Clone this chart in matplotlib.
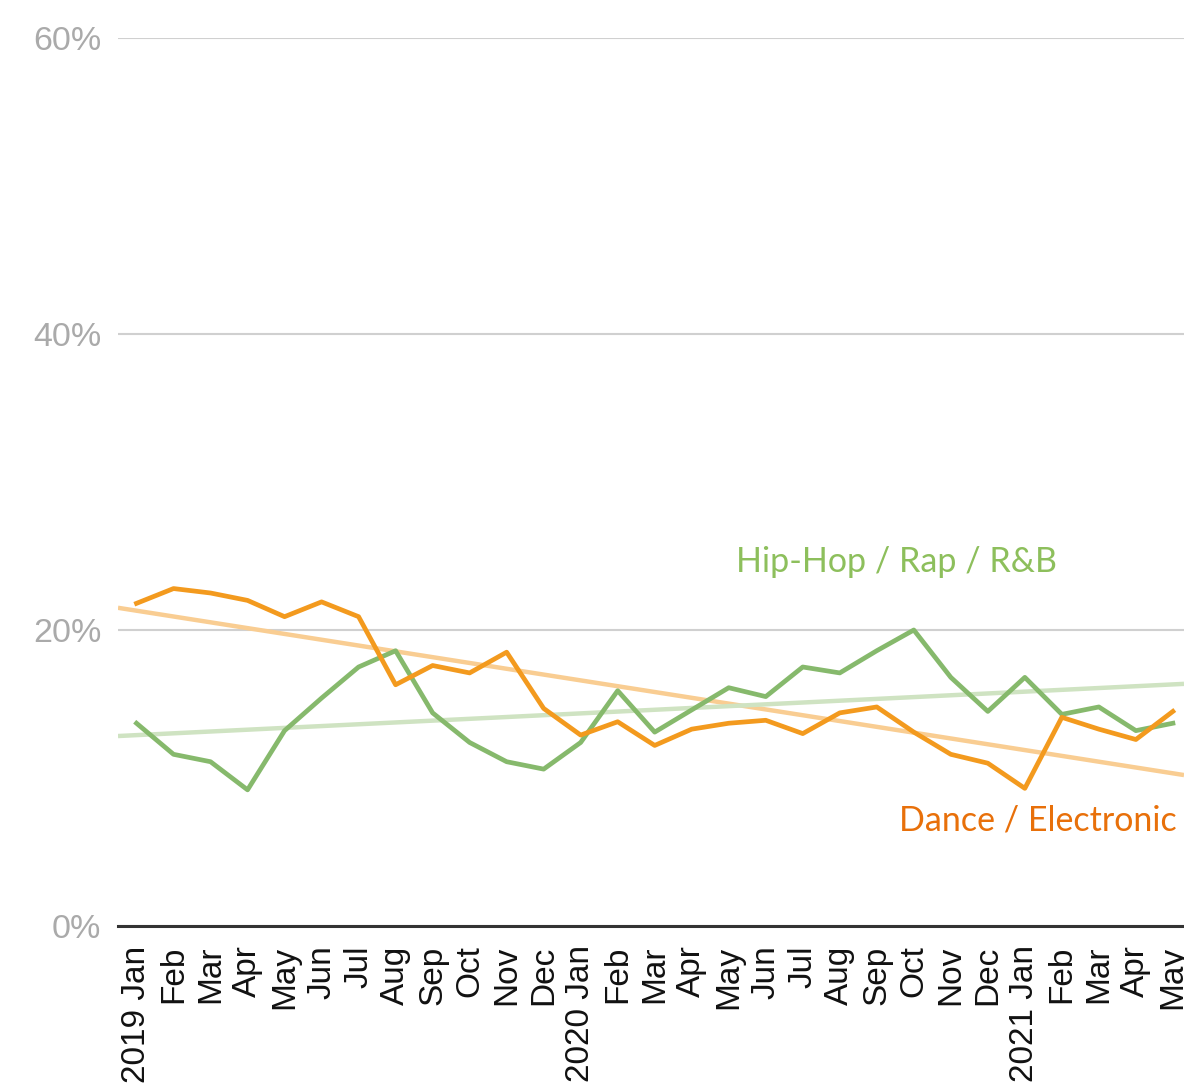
import numpy as np
import matplotlib
matplotlib.use("Agg")
import matplotlib.pyplot as plt

# Monthly share of genre (%), 2019 Jan .. 2021 May
months = ["2019 Jan", "Feb", "Mar", "Apr", "May", "Jun", "Jul", "Aug", "Sep", "Oct", "Nov", "Dec",
          "2020 Jan", "Feb", "Mar", "Apr", "May", "Jun", "Jul", "Aug", "Sep", "Oct", "Nov", "Dec",
          "2021 Jan", "Feb", "Mar", "Apr", "May"]
dance = [21.8, 22.8, 22.5, 22.0, 20.9, 21.9, 20.9, 16.3, 17.6, 17.1, 18.5, 14.7,
         12.9, 13.8, 12.2, 13.3, 13.7, 13.9, 13.0, 14.4, 14.8, 13.1, 11.6, 11.0,
         9.3, 14.1, 13.3, 12.6, 14.5]
hiphop = [13.7, 11.6, 11.1, 9.2, 13.2, 15.4, 17.5, 18.6, 14.4, 12.4, 11.1, 10.6,
          12.4, 15.9, 13.1, 14.6, 16.1, 15.5, 17.5, 17.1, 18.6, 20.0, 16.8, 14.5,
          16.8, 14.3, 14.8, 13.2, 13.7]
yticks = [0, 20, 40, 60]

ORANGE = "#f39a1e"
ORANGE_TREND = "#f9cd92"
GREEN = "#86b96c"
GREEN_TREND = "#cfe3c2"

fig = plt.figure(figsize=(11.84, 10.92), dpi=100)
ax = fig.add_axes([118 / 1184, (1092 - 926) / 1092, 1 - 118 / 1184, (926 - 38) / 1092])

x = np.arange(len(months))
ax.set_xlim(-0.5, 28.3)
ax.set_ylim(0, 60)

# linear trends over the whole visible range
xs = np.array(ax.get_xlim())
for vals, col in [(dance, ORANGE_TREND), (hiphop, GREEN_TREND)]:
    k, b = np.polyfit(x, vals, 1)
    ax.plot(xs, k * xs + b, color=col, lw=3.2, solid_capstyle="butt", zorder=2)

ax.plot(x, hiphop, color=GREEN, lw=3.4, zorder=3)
ax.plot(x, dance, color=ORANGE, lw=3.4, zorder=4)

ax.text(16.2, 24.6, "Hip-Hop / Rap / R&B", color="#8dbf5c", fontsize=24.5,
        family="Lato", va="center", ha="left")
ax.text(20.6, 7.1, "Dance / Electronic", color="#e8700a", fontsize=24.5,
        family="Lato", va="center", ha="left")

# grid + axis styling
ax.set_yticks(yticks)
ax.set_yticklabels([f"{v}%" for v in yticks], color="#aaaaaa", fontsize=24.5,
                   family="Liberation Sans")
ax.yaxis.grid(True, color="#d0d0d0", lw=1.5)
ax.set_axisbelow(True)
ax.set_xticks(x)
ax.set_xticklabels(months, rotation=90, fontsize=24, family="Liberation Sans", color="#111111")
ax.tick_params(axis="both", length=0)
ax.tick_params(axis="y", pad=12)
ax.tick_params(axis="x", pad=14)
for s in ["top", "right", "left"]:
    ax.spines[s].set_visible(False)
ax.spines["bottom"].set_color("#333333")
ax.spines["bottom"].set_linewidth(2.2)
ax.spines["bottom"].set_zorder(5)

fig.savefig("out.png", dpi=100)
